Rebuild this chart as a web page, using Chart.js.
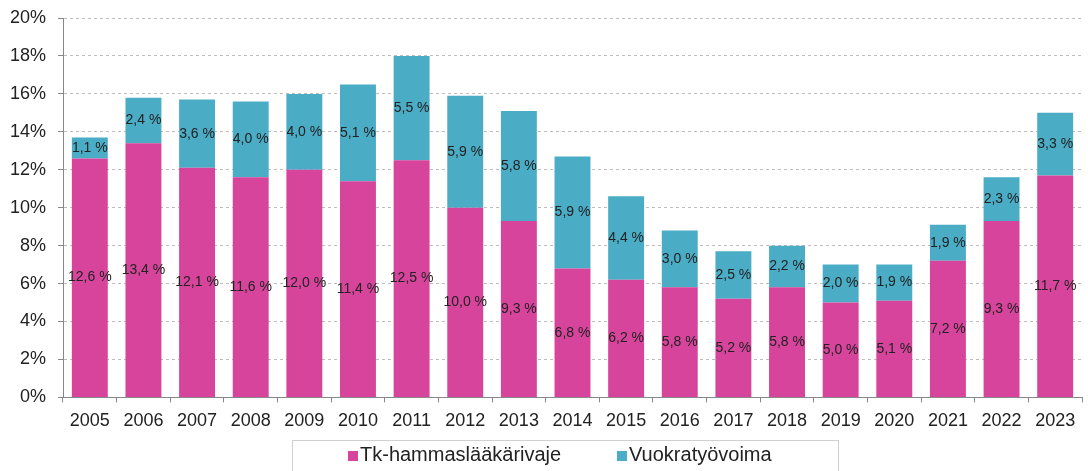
<!DOCTYPE html>
<html>
<head>
<meta charset="utf-8">
<script src="https://cdn.jsdelivr.net/npm/chart.js@4"></script>
<style>
  html, body { margin: 0; padding: 0; background: #fff; }
  #wrap { width: 1088px; height: 471px; }
</style>
</head>
<body>
<div id="wrap"><canvas id="chart" width="1088" height="471"></canvas></div>
<script>
const years = ['2005','2006','2007','2008','2009','2010','2011','2012','2013','2014','2015','2016','2017','2018','2019','2020','2021','2022','2023'];
const vajeValues = [12.6, 13.4, 12.1, 11.6, 12.0, 11.4, 12.5, 10.0, 9.3, 6.8, 6.2, 5.8, 5.2, 5.8, 5.0, 5.1, 7.2, 9.3, 11.7];
const vuokraValues = [1.1, 2.4, 3.6, 4.0, 4.0, 5.1, 5.5, 5.9, 5.8, 5.9, 4.4, 3.0, 2.5, 2.2, 2.0, 1.9, 1.9, 2.3, 3.3];
const seriesNames = ['Tk-hammaslääkärivaje', 'Vuokratyövoima'];
const yMax = 20;
const yStep = 2;

const FONT = '"Liberation Sans", Arial, sans-serif';

// value labels in the middle of each segment
const segmentLabels = {
    id: 'segmentLabels',
    afterDatasetsDraw(chart) {
        const ctx = chart.ctx;
        ctx.save();
        ctx.font = '14px ' + FONT;
        ctx.fillStyle = '#222';
        ctx.textAlign = 'center';
        ctx.textBaseline = 'middle';
        chart.data.datasets.forEach((ds, i) => {
            const meta = chart.getDatasetMeta(i);
            meta.data.forEach((bar, j) => {
                const v = ds.data[j];
                const text = v.toFixed(1).replace('.', ',') + ' %';
                ctx.fillText(text, bar.x, (bar.y + bar.base) / 2);
            });
        });
        ctx.restore();
    }
};

// legend with a thin frame, as in the original
const framedLegend = {
    id: 'framedLegend',
    afterDraw(chart) {
        const ctx = chart.ctx;
        ctx.save();
        ctx.strokeStyle = '#d0d0d0';
        ctx.lineWidth = 1;
        ctx.strokeRect(292.5, 440.5, 546, 40);
        ctx.font = '20px ' + FONT;
        ctx.textBaseline = 'middle';
        ctx.textAlign = 'left';
        const starts = [348, 617];
        chart.data.datasets.forEach((ds, i) => {
            const x = starts[i];
            ctx.fillStyle = ds.backgroundColor;
            ctx.fillRect(x, 451, 10, 10);
            ctx.fillStyle = '#222';
            ctx.fillText(ds.label, x + 12, 455);
        });
        ctx.restore();
    }
};

const ctx = document.getElementById('chart').getContext('2d');
new Chart(ctx, {
    type: 'bar',
    data: {
        labels: years,
        datasets: [
            {
                label: seriesNames[0],
                data: vajeValues,
                backgroundColor: '#d6459b',
                barPercentage: 0.67,
                categoryPercentage: 1.0
            },
            {
                label: seriesNames[1],
                data: vuokraValues,
                backgroundColor: '#4aacc5',
                barPercentage: 0.67,
                categoryPercentage: 1.0
            }
        ]
    },
    options: {
        responsive: false,
        animation: false,
        layout: { padding: { left: 0, right: 6, top: 18, bottom: 31 } },
        plugins: {
            legend: { display: false },
            tooltip: { enabled: false }
        },
        scales: {
            x: {
                stacked: true,
                grid: {
                    offset: true,
                    drawOnChartArea: false,
                    drawTicks: true,
                    tickLength: 5,
                    color: '#888'
                },
                border: { color: '#888' },
                ticks: {
                    color: '#222',
                    font: { size: 18, family: FONT },
                    padding: 8,
                    maxRotation: 0
                }
            },
            y: {
                stacked: true,
                min: 0,
                max: yMax,
                afterFit: scale => {
                    scale.width = 63;
                    scale.paddingTop = 0;
                    scale.paddingBottom = 0;
                },
                grid: {
                    color: '#bdbdbd',
                    tickLength: 5,
                    tickColor: '#888'
                },
                border: { color: '#888', dash: [3, 3] },
                ticks: {
                    stepSize: yStep,
                    color: '#222',
                    font: { size: 18, family: FONT },
                    padding: 12,
                    callback: v => v + '%'
                }
            }
        }
    },
    plugins: [segmentLabels, framedLegend]
});
</script>
</body>
</html>
